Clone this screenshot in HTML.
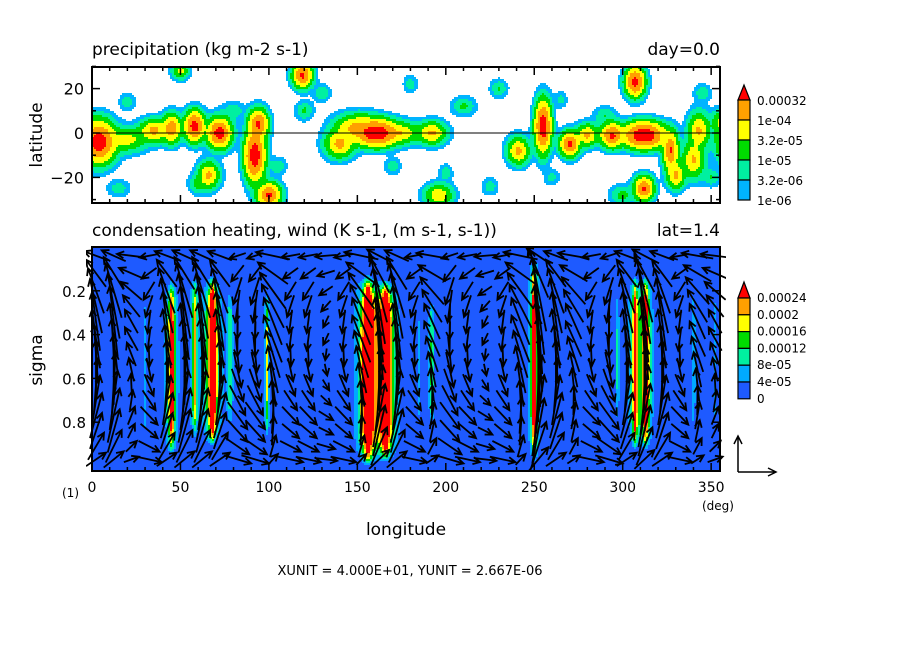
<!DOCTYPE html>
<html><head><meta charset="utf-8">
<style>
body{margin:0;background:#fff;}
#wrap{position:relative;width:904px;height:654px;overflow:hidden;background:#fff;font-family:"DejaVu Sans","Liberation Sans",sans-serif;}
svg{position:absolute;left:0;top:0;}
text{font-family:"DejaVu Sans","Liberation Sans",sans-serif;fill:#000;}
</style></head>
<body>
<div id="wrap">
<svg id="sv" width="904" height="654">
  <defs><clipPath id="clipB"><rect x="86" y="243" width="640" height="232"/></clipPath></defs>
  <g id="g-fields" shape-rendering="crispEdges"></g>
  <text x="92" y="55" font-size="17">precipitation (kg m-2 s-1)</text>
  <text x="720" y="55" font-size="17" text-anchor="end">day=0.0</text>
  <text x="92" y="236" font-size="17">condensation heating, wind (K s-1, (m s-1, s-1))</text>
  <text x="720" y="236" font-size="17" text-anchor="end">lat=1.4</text>
  <text transform="translate(42,135) rotate(-90)" font-size="17" text-anchor="middle">latitude</text>
  <text transform="translate(42,360) rotate(-90)" font-size="17" text-anchor="middle">sigma</text>
  <text x="406" y="535" font-size="17" text-anchor="middle">longitude</text>
  <text x="718" y="510" font-size="12" text-anchor="middle">(deg)</text>
  <text x="62" y="497" font-size="12">(1)</text>
  <text x="410" y="575" font-size="13" text-anchor="middle">XUNIT = 4.000E+01, YUNIT = 2.667E-06</text>
  <g id="g-arrows" clip-path="url(#clipB)"></g>
  <g id="g-top"></g>
  <g id="g-bot"></g>
  <g id="g-leg"></g>
  <g stroke="#000" stroke-width="1.5" fill="none">
    <path d="M738 472 L738 436 M734 444 L738 436 L742 444"/>
    <path d="M738 472 L776 472 M768 468 L776 472 L768 476"/>
  </g>
</svg>
</div>
<script>
// ---------- data ----------
const precipLon = [4,20,35,45,58,72,92,94,119,100,66,140,161,150,175,192,241,255,270,280,294,312,307,327,330,312,340,343,196,20,60,80,130,170,210,230,260,290,350,355,15,105,50,225,300,345,120,180,200,265];
const precipLat = [-4,-3,1,2,3,0,-10,4,26,-28,-19,-5,0,2,0,0,-8,3,-5,-1,-1,-1,23,-8,-19,-25,-12,1,-28,14,-23,10,18,-15,12,20,-20,8,-20,5,-25,-15,28,-24,-28,18,10,22,-18,15];
const precipAmp = [900,60,180,300,700,700,900,500,500,500,150,180,1200,200,100,150,160,900,500,150,500,1200,600,400,160,450,140,140,100,8,20,10,10,8,15,12,6,10,12,40,8,10,60,8,20,10,15,8,8,6];
const precipRx = [4,6,4,2.5,2.5,3,2.5,2.5,2.5,3,3,4,5,6,5,4,3,2,2.5,3,3,5,2.5,2,2.5,2.5,3,3,4,3,3,4,3,3,4,3,3,4,3,3,4,3,2.5,3,4,3,3,2.5,2.5,2.5];
const precipRy = [4,3,2.5,3,3,3,5,3,2.5,2.5,3,3,2.5,3,2.5,2.5,3,5,2.5,2.5,2.5,2.5,3,4,3,2.5,4,4,2.5,2.5,2.5,2.5,2.5,2.5,2.5,2.5,2.5,2.5,2.5,3,2.5,2.5,2,2.5,2.5,2.5,2.5,2.5,2.5,2.5];
const precipLevels = [1,3.2,10,32,100,320];
const precipColors = ['#00b4ff','#00f0a0','#00dc00','#ffff00','#ffa000','#ff0000'];
const precipLabels = ['1e-06','3.2e-06','1e-05','3.2e-05','1e-04','0.00032'];
const heatLon = [45,58,68,78,99,156,166,192,250,297,307,313,340,352,30,185];
const heatW = [1.8,1.6,2.2,1.3,1.3,3,3,1.3,1.5,1.1,1.8,1.8,1.1,1.1,1.5,1.5];
const heatAmp = [40,25,55,16,18,60,60,16,45,10,35,45,10,8,8,7];
const heatTop = [0.18,0.16,0.16,0.22,0.22,0.16,0.18,0.25,0.08,0.22,0.16,0.16,0.2,0.22,0.25,0.3];
const heatBot = [0.92,0.85,0.88,0.8,0.85,0.97,0.95,0.8,0.95,0.8,0.9,0.9,0.82,0.8,0.85,0.8];
const heatLevels = [4,8,12,16,20,24];
const heatColors = ['#00aaff','#00f0a0','#00dc00','#ffff00','#ffa000','#ff0000'];
const heatBg = '#1e5aff';
const heatLabels = ['0','4e-05','8e-05','0.00012','0.00016','0.0002','0.00024'];
const windLon = [0,10,20,30,40,50,60,70,80,90,100,110,120,130,140,150,160,170,180,190,200,210,220,230,240,250,260,270,280,290,300,310,320,330,340,350];
const windW = [5,6,2,-2,5,6,6,5,-3,-3,4,-2,-2,-1,-2,4,7,6,-2,3,-3,-2,-1,-2,4,9,5,3,-2,-3,5,7,5,-2,3,2];
const windSigma = [0.04,0.12,0.2,0.27,0.34,0.42,0.49,0.56,0.63,0.7,0.77,0.84,0.91,0.97];
const windU = [-3,-2.5,-2,-1.5,-1,-1,-0.5,0,0.5,1,1.5,1.5,2,2.5];
const windProf = [0.2,0.6,1,1.2,1.3,1.3,1.3,1.3,1.2,1.1,1,0.8,0.6,0.3];
const lonTicks = [0,50,100,150,200,250,300,350];
const latTicks = [20,0,-20];
const sigTicks = [0.2,0.4,0.6,0.8];

// ---------- scales ----------
const X0=92,X1=720,LON0=0,LON1=355;
const xS = lon => X0+(lon-LON0)/(LON1-LON0)*(X1-X0);
const T0=67,T1=203; const yLat = lat => 133-lat*2.22;
const B0=247,B1=471; const ySig = s => 247+s*219;
const ns='http://www.w3.org/2000/svg';
function mk(tag,attrs,parent){const e=document.createElementNS(ns,tag);for(const k in attrs)e.setAttribute(k,attrs[k]);parent.appendChild(e);return e;}
function sq(a){return a*a;}

const gf=document.getElementById('g-fields');
function run(y,x0,x1,h,col){ if(col && x1>x0) mk('rect',{x:x0,y:y,width:x1-x0,height:h,fill:col},gf); }
// top field
const cell=2;
for(let py=T0;py<T1;py+=cell){
  let cur=null,start=X0;
  const h=Math.min(cell,T1-py);
  for(let px=X0;px<X1;px+=cell){
    const lon=LON0+(px+cell/2-X0)/(X1-X0)*(LON1-LON0), lat=(133-(py+cell/2))/2.22;
    let v=0;
    for(let i=0;i<precipLon.length;i++){let dx=lon-precipLon[i];if(dx>180)dx-=360;if(dx<-180)dx+=360;const dy=lat-precipLat[i];const q=sq(dx/precipRx[i])+sq(dy/precipRy[i]);v+=precipAmp[i]*Math.exp(-Math.pow(q,0.7));}
    let c=-1;for(let k=0;k<precipLevels.length;k++)if(v>=precipLevels[k])c=k;
    const col=c>=0?precipColors[c]:null;
    if(col!==cur){run(py,start,px,h,cur);cur=col;start=px;}
  }
  run(py,start,X1,h,cur);
}
// bottom field
mk('rect',{x:X0,y:B0,width:X1-X0,height:B1-B0,fill:heatBg},gf);
for(let py=B0;py<B1;py+=2){
  let cur=null,start=X0;
  for(let px=X0;px<X1;px+=2){
    const lon=LON0+(px+1-X0)/(X1-X0)*(LON1-LON0), s=(py+1-247)/219;
    let v=0;
    for(let i=0;i<heatLon.length;i++){const dx=lon-heatLon[i];const mid=(heatTop[i]+heatBot[i])/2,hh=(heatBot[i]-heatTop[i])/2;const ds=(s-mid)/hh;
      if(Math.abs(ds)<1.3)v+=heatAmp[i]*Math.exp(-Math.abs(dx)/heatW[i])*Math.max(0,1-Math.pow(Math.abs(ds),4)*0.7);}
    let c=-1;for(let k=0;k<heatLevels.length;k++)if(v>=heatLevels[k])c=k;
    const col=c>=0?heatColors[c]:null;
    if(col!==cur){run(py,start,px,2,cur);cur=col;start=px;}
  }
  run(py,start,X1,2,cur);
}
// axes
function frame(g,y0,y1){ mk('rect',{x:X0,y:y0,width:X1-X0,height:y1-y0,fill:'none',stroke:'#000','stroke-width':2},g); }
const gt=document.getElementById('g-top');frame(gt,T0,T1);
const eq=mk('line',{x1:X0,x2:X1,y1:yLat(0),y2:yLat(0),stroke:'#000','stroke-width':1},gt);

for(let l=0;l<=350;l+=10){const x=xS(l),len=l%50==0?8:4;mk('line',{x1:x,x2:x,y1:T1,y2:T1-len,stroke:'#000','stroke-width':1.5},gt);mk('line',{x1:x,x2:x,y1:T0,y2:T0+len,stroke:'#000','stroke-width':1.5},gt);}
for(let lat=-30;lat<=30;lat+=10){const y=yLat(lat),len=lat%20==0?8:4;mk('line',{x1:X0,x2:X0+len,y1:y,y2:y,stroke:'#000','stroke-width':1.5},gt);mk('line',{x1:X1,x2:X1-len,y1:y,y2:y,stroke:'#000','stroke-width':1.5},gt);}
latTicks.forEach(t=>{const e=mk('text',{x:84,y:yLat(t)+6,'font-size':16,'text-anchor':'end'},gt);e.textContent=t==-20?'−20':String(t);

});
const gb=document.getElementById('g-bot');frame(gb,B0,B1);
for(let l=0;l<=350;l+=10){const x=xS(l),len=l%50==0?8:4;mk('line',{x1:x,x2:x,y1:B1,y2:B1-len,stroke:'#000','stroke-width':1.5},gb);}
sigTicks.forEach(t=>{const y=ySig(t);mk('line',{x1:X0,x2:X0+8,y1:y,y2:y,stroke:'#000','stroke-width':1.5},gb);mk('line',{x1:X1,x2:X1-8,y1:y,y2:y,stroke:'#000','stroke-width':1.5},gb);
const e=mk('text',{x:86,y:y+6,'font-size':15,'text-anchor':'end'},gb);e.textContent=String(t);

});
lonTicks.forEach(t=>{const e=mk('text',{x:xS(t),y:492,'font-size':14,'text-anchor':'middle'},gb);e.textContent=String(t);

});
// arrows
const ga=document.getElementById('g-arrows');
for(let c=0;c<windLon.length;c++){for(let r=0;r<windSigma.length;r++){
  const x=xS(windLon[c])+4,y=ySig(windSigma[r]);
  const dx=windU[r]*8+(windW[c]>4?0:(windW[c]*-2.5)), dy=-windW[c]*windProf[r]*9;
  const L=Math.hypot(dx,dy)||1;
  const ux=dx/L,uy=dy/L;
  const ax=x-dx/2,ay=y-dy/2,bx=x+dx/2,by=y+dy/2;
  const p='M'+ax+' '+ay+' L'+bx+' '+by+' M'+(bx-7*ux+3.5*uy)+' '+(by-7*uy-3.5*ux)+' L'+bx+' '+by+' L'+(bx-7*ux-3.5*uy)+' '+(by-7*uy+3.5*ux);
  const e=mk('path',{d:p,stroke:'#000','stroke-width':1.8,fill:'none'},ga);
  
  
}}
// legends
const gl=document.getElementById('g-leg');
function legend(top,h,colors,bg,tri){
  const n=colors.length-1;
  mk('path',{d:'M738 '+(top+tri)+' L744 '+top+' L750 '+(top+tri)+' Z',fill:colors[n],stroke:'#000','stroke-width':1.2},gl);
  let y=top+tri; const boxes=colors.slice(0,n).reverse().concat(bg?[bg]:[]);
  boxes.forEach(col=>{mk('rect',{x:738,y:y,width:12,height:h,fill:col,stroke:'#000','stroke-width':1.2},gl);y+=h;});
  return top+tri;
}
let st=legend(85,20,precipColors,null,15);
precipLabels.slice().reverse().forEach((t,i)=>{const e=mk('text',{x:757,y:st+5+i*20,'font-size':12},gl);e.textContent=t;

});
st=legend(282,16.8,heatColors,heatBg,16);
heatLabels.slice().reverse().forEach((t,i)=>{const e=mk('text',{x:757,y:st+4+i*16.8,'font-size':12},gl);e.textContent=t;

});
</script>
</body></html>
